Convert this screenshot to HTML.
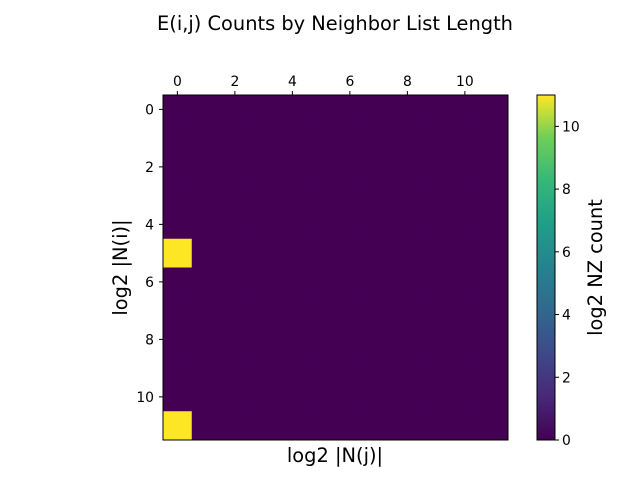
<!DOCTYPE html>
<html><head><meta charset="utf-8"><style>body{margin:0;background:#fff}svg{display:block;font-family:"DejaVu Sans","Liberation Sans",sans-serif}</style></head>
<body>
<svg id="c" width="640" height="480">
<defs><linearGradient id="vir" x1="0" y1="1" x2="0" y2="0">
<stop offset="0" stop-color="#440154"/><stop offset="0.125" stop-color="#482878"/><stop offset="0.25" stop-color="#3e4989"/><stop offset="0.375" stop-color="#31688e"/><stop offset="0.5" stop-color="#26828e"/><stop offset="0.625" stop-color="#1f9e89"/><stop offset="0.75" stop-color="#35b779"/><stop offset="0.875" stop-color="#6ece58"/><stop offset="1" stop-color="#fde725"/></linearGradient></defs>
<text x="335" y="30" font-size="19.4" text-anchor="middle">E(i,j) Counts by Neighbor List Length</text>
<g id="cells"></g>
<rect x="163" y="95" width="345" height="345" fill="none" stroke="#000" stroke-width="1"/>
<g id="ticks" font-size="13.9"></g>
<text x="335" y="462" font-size="19.4" text-anchor="middle">log2 |N(j)|</text>
<text transform="translate(127,267.5) rotate(-90)" font-size="19.4" text-anchor="middle">log2 |N(i)|</text>
<rect x="537" y="95" width="18" height="345" fill="url(#vir)" stroke="#000" stroke-width="1"/>
<g id="cbt" font-size="13.9"></g>
<text transform="translate(602,267.5) rotate(-90)" font-size="19.4" text-anchor="middle">log2 NZ count</text>
</svg>
<script>
const rowsIdx=[0,1,2,3,4,5,6,7,8,9,10,11];
const colsIdx=[0,1,2,3,4,5,6,7,8,9,10,11];
const hotCells=[[5,0,11],[11,0,11]];
const tickLabels=[0,2,4,6,8,10];
const cbTicks=[0,2,4,6,8,10];
const vmax=11;
const ns="http://www.w3.org/2000/svg";
const X0=163,Y0=95,S=345,n=12,cw=S/n;
const xs=j=>X0+j*cw, ys=i=>Y0+i*cw;
const stops=[[0,68,1,84],[.125,72,40,120],[.25,62,73,137],[.375,49,104,142],[.5,38,130,142],[.625,31,158,137],[.75,53,183,121],[.875,110,206,88],[1,253,231,37]];
function col(v){let t=Math.max(0,Math.min(1,v/vmax));for(let k=1;k<stops.length;k++){if(t<=stops[k][0]){const a=stops[k-1],b=stops[k],f=(t-a[0])/(b[0]-a[0]);return `rgb(${[1,2,3].map(q=>Math.round(a[q]+f*(b[q]-a[q]))).join(',')})`;}}}
const vals=rowsIdx.map(()=>colsIdx.map(()=>0));
hotCells.forEach(([i,j,v])=>vals[i][j]=v);
const g=document.getElementById('cells');
rowsIdx.forEach(i=>colsIdx.forEach(j=>{const r=document.createElementNS(ns,'rect');
r.setAttribute('x',xs(j));r.setAttribute('y',ys(i));r.setAttribute('width',cw+0.5);r.setAttribute('height',cw+0.5);r.setAttribute('fill',col(vals[i][j]));


g.appendChild(r);}));
const tg=document.getElementById('ticks');
function add(p,tag,at,txt){const e=document.createElementNS(ns,tag);for(const k in at)e.setAttribute(k,at[k]);if(txt!==undefined)e.textContent=txt;p.appendChild(e);return e;}
tickLabels.forEach(v=>{const x=xs(v)+cw/2,y=ys(v)+cw/2;
add(tg,'line',{x1:x,x2:x,y1:Y0,y2:Y0-4,stroke:'#000'});
const tx=add(tg,'text',{x:x,y:Y0-9,'text-anchor':'middle'},v);


add(tg,'line',{x1:X0,x2:X0-4,y1:y,y2:y,stroke:'#000'});
const ty=add(tg,'text',{x:X0-9,y:y+5,'text-anchor':'end'},v);

});
const cg=document.getElementById('cbt');
cbTicks.forEach(v=>{const y=440-v/vmax*345;
add(cg,'line',{x1:555,x2:559,y1:y,y2:y,stroke:'#000'});
const t=add(cg,'text',{x:562,y:y+5},v);

});
</script>
</body></html>
